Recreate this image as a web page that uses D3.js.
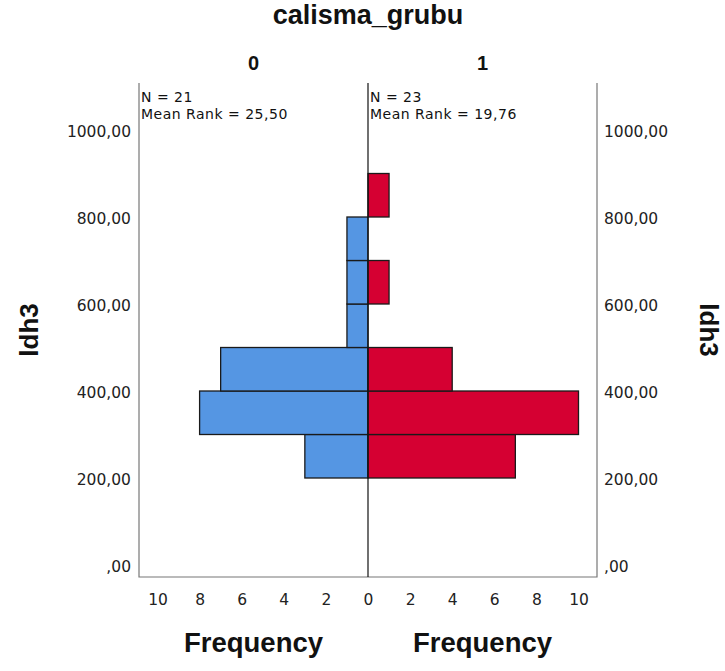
<!DOCTYPE html>
<html>
<head>
<meta charset="utf-8">
<script src="https://cdn.jsdelivr.net/npm/d3@7"></script>
<style>
  html, body { margin: 0; padding: 0; background: #fff; }
  svg { display: block; font-family: "Liberation Sans", Arial, sans-serif; }
</style>
</head>
<body>
<svg id="chart" width="725" height="671"></svg>
<script>
// Population pyramid of ldh3 split by calisma_grubu
const groups = ["0", "1"];
const groupStats = [
  ["N = 21", "Mean Rank = 25,50"],
  ["N = 23", "Mean Rank = 19,76"]
];
const binStarts = [200, 300, 400, 500, 600, 700, 800];
const binWidth = 100;
const freqGroup0 = [3, 8, 7, 1, 1, 1, 0];
const freqGroup1 = [7, 10, 4, 0, 1, 0, 1];
const yTicks = [0, 200, 400, 600, 800, 1000];
const yTickLabels = [",00", "200,00", "400,00", "600,00", "800,00", "1000,00"];
const xTicks = [0, 2, 4, 6, 8, 10];

const svg = d3.select("#chart");
const colors = ["#5596e3", "#d50032"];
const labelFont = "'DejaVu Sans', Verdana, sans-serif";
const titleFont = "'Liberation Sans', Arial, sans-serif";

const plotLeft = 139, plotMid = 368, plotRight = 597, plotTop = 83, plotBottom = 577;

const y = d3.scaleLinear().domain([0, 1000]).range([565, 130]);
const xL = d3.scaleLinear().domain([0, 10]).range([plotMid, plotMid - 210.5]);
const xR = d3.scaleLinear().domain([0, 10]).range([plotMid, plotMid + 210.5]);

// Bars
function drawBars(freqs, xs, color, side) {
  svg.append("g").selectAll("rect")
    .data(binStarts.map((b, i) => ({ b, f: freqs[i] })).filter(d => d.f > 0))
    .join("rect")
    .attr("x", d => side < 0 ? xs(d.f) : xs(0))
    .attr("width", d => Math.abs(xs(d.f) - xs(0)))
    .attr("y", d => y(d.b + binWidth))
    .attr("height", d => y(d.b) - y(d.b + binWidth))
    .attr("fill", color)
    .attr("stroke", "#1a1a1a")
    .attr("stroke-width", 1.3);
}
drawBars(freqGroup0, xL, colors[0], -1);
drawBars(freqGroup1, xR, colors[1], 1);

// Frame
const frame = svg.append("g").attr("fill", "none").attr("stroke", "#777").attr("stroke-width", 1.2);
frame.append("path").attr("d", `M${plotLeft},${plotTop}V${plotBottom}H${plotRight}V${plotTop}`);
svg.append("line").attr("x1", plotMid).attr("x2", plotMid).attr("y1", plotTop).attr("y2", plotBottom)
  .attr("stroke", "#111").attr("stroke-width", 1.2);

// Y axes (left and right)
const fmtY = v => yTickLabels[yTicks.indexOf(v)];
const yAxisL = svg.append("g").attr("transform", `translate(${plotLeft - 8},0)`)
  .call(d3.axisLeft(y).tickValues(yTicks).tickFormat(fmtY).tickSize(0).tickPadding(0));
const yAxisR = svg.append("g").attr("transform", `translate(${plotRight + 7},0)`)
  .call(d3.axisRight(y).tickValues(yTicks).tickFormat(fmtY).tickSize(0).tickPadding(0));

// X axes (frequency, mirrored)
const xAxisL = svg.append("g").attr("transform", `translate(0,605)`)
  .call(d3.axisBottom(xL).tickValues(xTicks).tickSize(0).tickPadding(0));
const xAxisR = svg.append("g").attr("transform", `translate(0,605)`)
  .call(d3.axisBottom(xR).tickValues(xTicks.filter(t => t > 0)).tickSize(0).tickPadding(0));

[yAxisL, yAxisR, xAxisL, xAxisR].forEach(g => {
  g.select(".domain").remove();
  g.selectAll("text").attr("font-size", 15.5).attr("fill", "#222")
    .attr("font-family", labelFont);
});
yAxisL.selectAll("text").attr("dy", "0.45em");
yAxisR.selectAll("text").attr("dy", "0.45em");
xAxisL.selectAll("text").attr("dy", "0");
xAxisR.selectAll("text").attr("dy", "0");

// Titles
svg.append("text").attr("x", plotMid).attr("y", 24).attr("text-anchor", "middle")
  .attr("font-family", titleFont)
  .attr("font-size", 27).attr("font-weight", "bold").attr("fill", "#111").text("calisma_grubu");

const centers = [(plotLeft + plotMid) / 2, (plotMid + plotRight) / 2];
groups.forEach((g, i) => {
  svg.append("text").attr("x", centers[i]).attr("y", 70).attr("text-anchor", "middle")
    .attr("font-family", titleFont)
    .attr("font-size", 20).attr("font-weight", "bold").attr("fill", "#111").text(g);
  svg.append("text").attr("x", centers[i]).attr("y", 652).attr("text-anchor", "middle")
    .attr("font-family", titleFont)
    .attr("font-size", 27.5).attr("font-weight", "bold").attr("fill", "#111").text("Frequency");
  const sx = (i === 0 ? plotLeft : plotMid) + 2;
  groupStats[i].forEach((t, j) => {
    svg.append("text").attr("x", sx).attr("y", 102 + j * 17)
      .attr("font-family", labelFont).attr("letter-spacing", 0.5)
      .attr("font-size", 14).attr("fill", "#111").text(t);
  });
});

svg.append("text").attr("transform", "translate(38,330) rotate(-90)").attr("text-anchor", "middle")
  .attr("font-family", titleFont)
  .attr("font-size", 26).attr("font-weight", "bold").attr("fill", "#111").text("ldh3");
svg.append("text").attr("transform", "translate(700,330) rotate(90)").attr("text-anchor", "middle")
  .attr("font-family", titleFont)
  .attr("font-size", 26).attr("font-weight", "bold").attr("fill", "#111").text("ldh3");
</script>
</body>
</html>
